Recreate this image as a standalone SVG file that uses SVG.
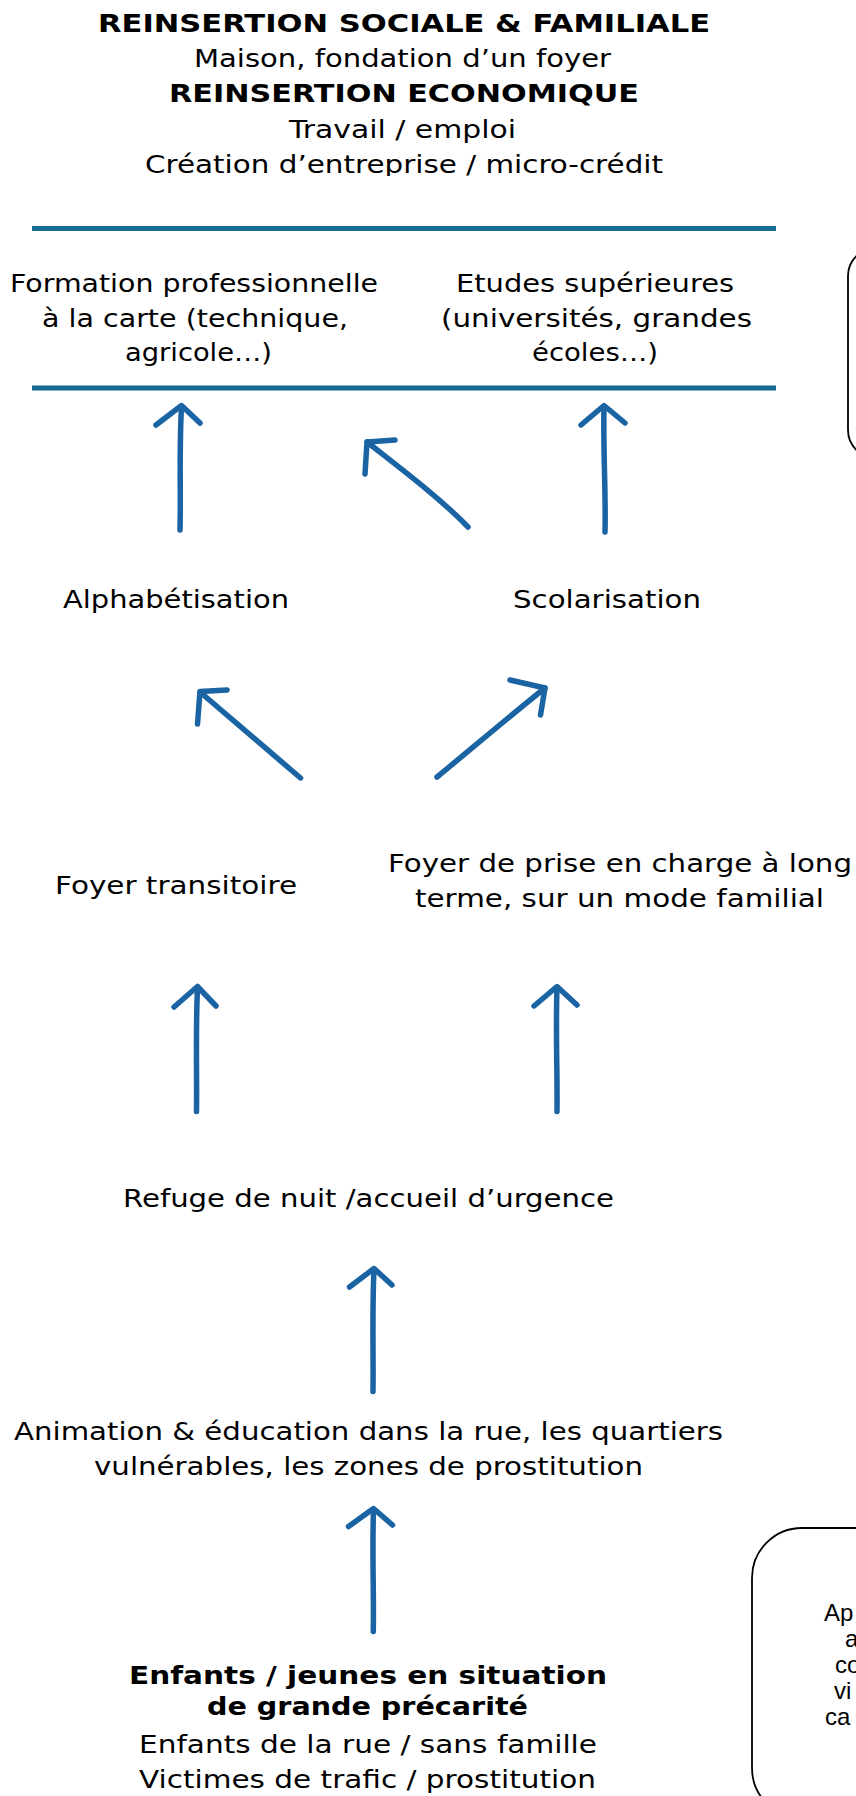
<svg xmlns="http://www.w3.org/2000/svg" width="856" height="1796" viewBox="0 0 856 1796">
  <defs>
    <style>
      .t { font-family: "DejaVu Sans", Verdana, sans-serif; font-size: 25px; fill: #000; text-anchor: middle; }
      .b { font-weight: bold; }
      .bx { font-family: "Liberation Sans", Arial, sans-serif; font-size: 24px; fill: #000; }
      .rule { stroke: #146c96; stroke-width: 5; fill: none; }
      .arr { stroke: #1a64a4; stroke-width: 5.5; fill: none; stroke-linecap: round; stroke-linejoin: round; }
      .box { fill: #fff; stroke: #000; stroke-width: 1.8; }
    </style>
    <clipPath id="clipTop">
      <rect x="0" y="0" width="856" height="176"/>
    </clipPath>
  </defs>
  <rect x="0" y="0" width="856" height="1796" fill="#fff"/>

  <g id="node-reinsertion">
    <text class="t b" x="404" y="31.5" textLength="612" lengthAdjust="spacingAndGlyphs">REINSERTION SOCIALE &amp; FAMILIALE</text>
    <text class="t" x="402.5" y="66.5" textLength="417" lengthAdjust="spacingAndGlyphs">Maison, fondation d’un foyer</text>
    <text class="t b" x="404" y="102" textLength="470" lengthAdjust="spacingAndGlyphs">REINSERTION ECONOMIQUE</text>
    <text class="t" x="402.5" y="137.5" textLength="227" lengthAdjust="spacingAndGlyphs">Travail / emploi</text>
    <text class="t" x="404" y="173" textLength="518" lengthAdjust="spacingAndGlyphs" clip-path="url(#clipTop)">Création d’entreprise / micro-crédit</text>
  </g>

  <g id="rules">
    <line class="rule" x1="32" y1="228.5" x2="776" y2="228.5"/>
    <line class="rule" x1="32" y1="388" x2="776" y2="388"/>
  </g>

  <g id="node-formation">
    <text class="t" x="194" y="292" textLength="368" lengthAdjust="spacingAndGlyphs">Formation professionnelle</text>
    <text class="t" x="195" y="327" textLength="306" lengthAdjust="spacingAndGlyphs">à la carte (technique,</text>
    <text class="t" x="198.5" y="361" textLength="147" lengthAdjust="spacingAndGlyphs">agricole…)</text>
  </g>

  <g id="node-etudes">
    <text class="t" x="595" y="292" textLength="278" lengthAdjust="spacingAndGlyphs">Etudes supérieures</text>
    <text class="t" x="596.5" y="327" textLength="311" lengthAdjust="spacingAndGlyphs">(universités, grandes</text>
    <text class="t" x="595" y="361" textLength="126" lengthAdjust="spacingAndGlyphs">écoles…)</text>
  </g>

  <g id="node-box-top">
    <rect class="box" x="848" y="248" width="120" height="210" rx="28" ry="28"/>
  </g>

  <g id="node-alphabetisation">
    <text class="t" x="176" y="608" textLength="226" lengthAdjust="spacingAndGlyphs">Alphabétisation</text>
  </g>

  <g id="node-scolarisation">
    <text class="t" x="607" y="608" textLength="188" lengthAdjust="spacingAndGlyphs">Scolarisation</text>
  </g>

  <g id="node-foyer-transitoire">
    <text class="t" x="176" y="894" textLength="242" lengthAdjust="spacingAndGlyphs">Foyer transitoire</text>
  </g>

  <g id="node-foyer-long-terme">
    <text class="t" x="620" y="872" textLength="464" lengthAdjust="spacingAndGlyphs">Foyer de prise en charge à long</text>
    <text class="t" x="619.5" y="907" textLength="409" lengthAdjust="spacingAndGlyphs">terme, sur un mode familial</text>
  </g>

  <g id="node-refuge">
    <text class="t" x="368.5" y="1207" textLength="491" lengthAdjust="spacingAndGlyphs">Refuge de nuit /accueil d’urgence</text>
  </g>

  <g id="node-animation">
    <text class="t" x="368.5" y="1440" textLength="709" lengthAdjust="spacingAndGlyphs">Animation &amp; éducation dans la rue, les quartiers</text>
    <text class="t" x="368.5" y="1475" textLength="549" lengthAdjust="spacingAndGlyphs">vulnérables, les zones de prostitution</text>
  </g>

  <g id="node-enfants">
    <text class="t b" x="368" y="1684" textLength="478" lengthAdjust="spacingAndGlyphs">Enfants / jeunes en situation</text>
    <text class="t b" x="367.5" y="1715" textLength="321" lengthAdjust="spacingAndGlyphs">de grande précarité</text>
    <text class="t" x="368" y="1753" textLength="458" lengthAdjust="spacingAndGlyphs">Enfants de la rue / sans famille</text>
    <text class="t" x="367.5" y="1788" textLength="457" lengthAdjust="spacingAndGlyphs">Victimes de trafic / prostitution</text>
  </g>

  <g id="node-box-bottom">
    <rect class="box" x="752" y="1528" width="160" height="290" rx="50" ry="50"/>
    <text class="bx" x="824" y="1621">Ap</text>
    <text class="bx" x="845" y="1647">a</text>
    <text class="bx" x="835" y="1673">co</text>
    <text class="bx" x="834" y="1699">vi</text>
    <text class="bx" x="825" y="1725">ca</text>
  </g>

  <g id="connectors">
    <!-- row 1 -->
    <path class="arr" d="M180,530 C181,495 179,450 181.5,407"/>
    <path class="arr" d="M156,425 L181.5,405.5 L200,423"/>
    <path class="arr" d="M468,527 C440,498 400,468 367,442"/>
    <path class="arr" d="M395,440 L367,442 L365,474"/>
    <path class="arr" d="M605,532 C606,495 603,450 604,407"/>
    <path class="arr" d="M581,425 L604,405.5 L625,423"/>
    <!-- row 2 -->
    <path class="arr" d="M300.5,778 C270,752 235,722 200,692"/>
    <path class="arr" d="M227,690 L200,691.5 L197.5,724"/>
    <path class="arr" d="M437,777 C470,750 505,720 545,688"/>
    <path class="arr" d="M510,680 L545,688 L540.5,715"/>
    <!-- row 3 -->
    <path class="arr" d="M196.5,1111.5 C197,1075 195.5,1030 197.5,988"/>
    <path class="arr" d="M174,1007 L197.5,986.5 L216,1006"/>
    <path class="arr" d="M557,1111.5 C557.5,1075 555.5,1030 557,988"/>
    <path class="arr" d="M534,1006 L557,986.5 L577,1005"/>
    <!-- row 4 -->
    <path class="arr" d="M373,1391.5 C373.5,1355 372,1310 374,1270"/>
    <path class="arr" d="M349.5,1287 L374,1268.5 L392,1285"/>
    <!-- row 5 -->
    <path class="arr" d="M373.3,1631.5 C374,1595 372,1550 373.5,1510"/>
    <path class="arr" d="M348.5,1526.5 L373.5,1508.5 L392.5,1525"/>
  </g>
</svg>
